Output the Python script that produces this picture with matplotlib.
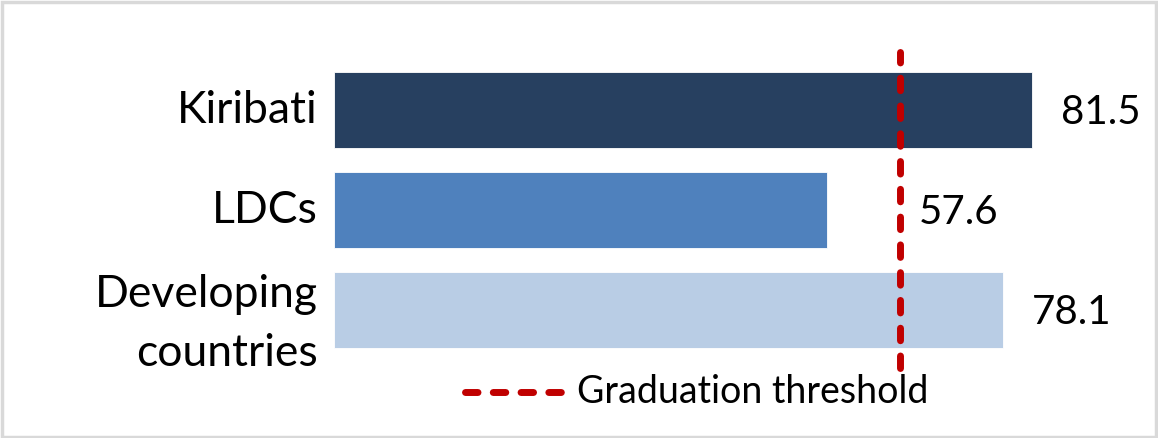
import matplotlib.pyplot as plt
from matplotlib.lines import Line2D
from matplotlib.patches import Rectangle

# data
categories = ['Kiribati', 'LDCs', 'Developing\ncountries']
values = [81.5, 57.6, 78.1]
threshold = 66.1
bar_colors = ['#274060', '#4F81BD', '#B9CDE5']
legend_label = 'Graduation threshold'

plt.rcParams['font.family'] = ['Lato', 'DejaVu Sans']

W, H = 1158, 438
fig = plt.figure(figsize=(W / 100, H / 100), dpi=100)

# plot area in pixels: x from 334 (zero) to 1100, y from 52 to 368 (top)
x0, x1 = 334, 1100
y_top, y_bot = 52, 368
ax = fig.add_axes([x0 / W, (H - y_bot) / H, (x1 - x0) / W, (y_bot - y_top) / H])
px_per_unit = 8.565
ax.set_xlim(0, (x1 - x0) / px_per_unit)
ax.set_ylim(2.58, -0.58)
ax.axis('off')

ypos = range(len(categories))
ax.barh(ypos, values, height=0.76, color=bar_colors, edgecolor='white', linewidth=0.6)

# category labels
for y, c in zip(ypos, categories):
    dy = 0.14 if '\n' in c else 0.0
    ax.text(-1.9, y + dy, c, ha='right', va='center', fontsize=32, linespacing=1.55,
            clip_on=False)

# value labels (pushed past the threshold line where the bar is short)
for y, v in zip(ypos, values):
    lx = v + 3.4 if v > threshold else threshold + 2.2
    ax.text(lx, y + 0.02, f'{v:.1f}', ha='left', va='center', fontsize=29,
            clip_on=False)

dash = (0, (1.8, 2.2))
ax.axvline(threshold, ymin=0, ymax=1, color='#C00000', lw=5, linestyle=dash,
           dash_capstyle='round', clip_on=False)

# legend entry drawn by hand
ly = (H - 392) / H
fig.add_artist(Line2D([465 / W, 565 / W], [ly, ly], transform=fig.transFigure,
                      color='#C00000', lw=5, linestyle=dash, dash_capstyle='round'))
fig.text(577 / W, ly, legend_label, ha='left', va='center', fontsize=27)

# light grey frame
fig.add_artist(Rectangle((0.0015, 0.003), 0.997, 0.993, transform=fig.transFigure,
                         fill=False, edgecolor='#D9D9D9', lw=2.5))

fig.savefig('out.png', dpi=100)
